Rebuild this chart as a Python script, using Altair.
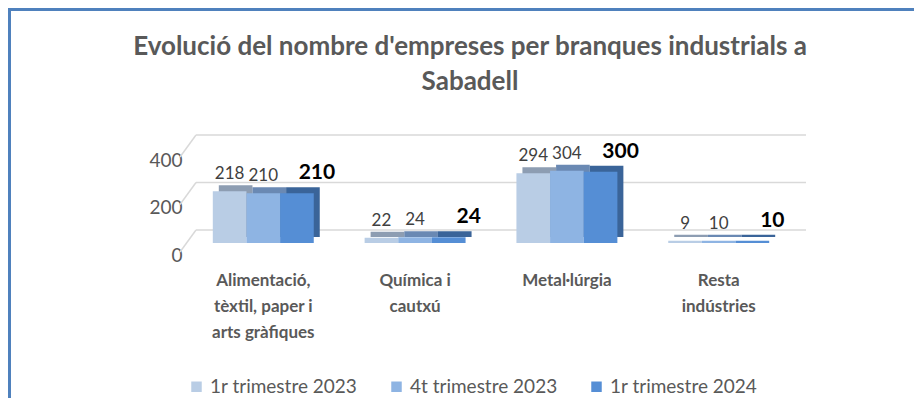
import altair as alt
import pandas as pd

categories = ["Alimentació,\ntèxtil, paper i\narts gràfiques", "Química i\ncautxú", "Metal·lúrgia", "Resta\nindústries"]
series = ["1r trimestre 2023", "4t trimestre 2023", "1r trimestre 2024"]
values_1t2023 = [218, 22, 294, 9]
values_4t2023 = [210, 24, 304, 10]
values_1t2024 = [210, 24, 300, 10]
grid_values = [0, 200, 400]
title_lines = ["Evolució del nombre d'empreses per branques industrials a", "Sabadell"]

front_colors = ["#B9CDE5", "#8EB4E3", "#558ED5"]
top_colors = ["#8D9DB2", "#6A89B3", "#3A6499"]
FONT = "Lato"
GRAY = "#595959"

rows = []
for s, vals in zip(series, [values_1t2023, values_4t2023, values_1t2024]):
    for c, v in zip(categories, vals):
        rows.append({"categoria": c, "serie": s, "valor": v})
df = pd.DataFrame(rows)
grid_df = pd.DataFrame({"v": grid_values})

W, H = 608, 95
P_IN, P_OUT = 0.335, 0.17
BANDW = W / (len(categories) - P_IN + 2 * P_OUT) * (1 - P_IN)
DEPTH_DX = 6

yscale = alt.Scale(domain=[0, 400], nice=False, zero=True)
xscale = alt.Scale(type="band", domain=categories, paddingInner=P_IN, paddingOuter=P_OUT)
oscale = alt.Scale(type="band", domain=series, paddingInner=0, paddingOuter=0)
oscale_depth = alt.Scale(type="band", domain=series, paddingInner=0, paddingOuter=0,
                         range=[DEPTH_DX, BANDW + DEPTH_DX])

xaxis = alt.Axis(labelExpr="split(datum.label, '\\n')", labelAngle=0, domain=False, ticks=False, grid=False,
                 labelFont=FONT, labelFontSize=17, labelFontWeight="bold", labelColor=GRAY,
                 labelLineHeight=26, labelPadding=29, labelBaseline="top", title=None)
yaxis = alt.Axis(values=grid_values, grid=False, domain=False, ticks=False, labelPadding=5,
                 labelOffset=12, labelFont=FONT, labelFontSize=19, labelColor=GRAY, title=None)

XE = alt.X("categoria:N", scale=xscale, sort=categories, axis=xaxis, title=None)
XO = alt.XOffset("serie:N", scale=oscale, sort=series)
YE = alt.Y("valor:Q", scale=yscale, axis=yaxis, title=None)

grid = alt.Chart(grid_df).mark_rule(color="#D9D9D9", strokeWidth=1.5, yOffset=-13).encode(
    y=alt.Y("v:Q", scale=yscale, axis=yaxis, title=None),
    x=alt.value(9), x2=alt.value(W + 11),
)
diag = alt.Chart(grid_df).mark_rule(color="#D9D9D9", strokeWidth=1.5, yOffset=9, y2Offset=-13).encode(
    y=alt.Y("v:Q", scale=yscale, axis=yaxis, title=None),
    y2="v:Q",
    x=alt.value(-7), x2=alt.value(9),
)

depth = alt.Chart(df).mark_bar(yOffset=-6).encode(
    x=XE, xOffset=alt.XOffset("serie:N", scale=oscale_depth, sort=series), y=YE,
    color=alt.Color("serie:N", scale=alt.Scale(domain=series, range=top_colors), legend=None),
)

front = alt.Chart(df).mark_bar().encode(
    x=XE, xOffset=XO, y=YE,
    color=alt.Color("serie:N", scale=alt.Scale(domain=series, range=front_colors), sort=series,
                    legend=alt.Legend(title=None, orient="none", legendX=0, legendY=229, direction="horizontal",
                                      symbolType="square", symbolSize=110, symbolStrokeWidth=0,
                                      labelFont=FONT, labelFontSize=19, labelColor=GRAY,
                                      labelOffset=4, columnPadding=29)),
)

labels_norm = alt.Chart(df).transform_filter(alt.datum.serie != series[2]).mark_text(
    dy=-17, font=FONT, fontSize=17, color="#404040", baseline="middle").encode(
    x=XE, xOffset=XO, y=YE, text="valor:Q")

labels_bold = alt.Chart(df).transform_filter(alt.datum.serie == series[2]).mark_text(
    dy=-20, dx=20, font=FONT, fontSize=21, fontWeight="bold", color="#000000", baseline="middle").encode(
    x=XE, xOffset=XO, y=YE, text="valor:Q")

title = alt.Chart(alt.Data(values=[{}])).mark_text(
    text=title_lines, font=FONT, fontSize=26, fontWeight="bold", color=GRAY,
    align="center", baseline="alphabetic", lineHeight=35).encode(
    x=alt.value(W / 2 - 21), y=alt.value(-93))

border_left = alt.Chart(alt.Data(values=[{}])).mark_rule(color="#4F81BD", strokeWidth=3).encode(
    x=alt.value(-177.5), y=alt.value(-140), y2=alt.value(260))
border_top = alt.Chart(alt.Data(values=[{}])).mark_rule(color="#4F81BD", strokeWidth=3).encode(
    y=alt.value(-138.5), x=alt.value(-179), x2=alt.value(730))

chart = alt.layer(grid, diag, depth, front, labels_norm, labels_bold, title, border_left, border_top).resolve_scale(
    color="independent", xOffset="independent"
).properties(
    width=W, height=H,
    autosize=alt.AutoSizeParams(type="none"),
    padding={"left": 179, "top": 140, "right": 119, "bottom": 155},
    background="white",
).configure_view(stroke=None)

chart.save("out.html", embed_options={"renderer": "svg", "actions": False})
